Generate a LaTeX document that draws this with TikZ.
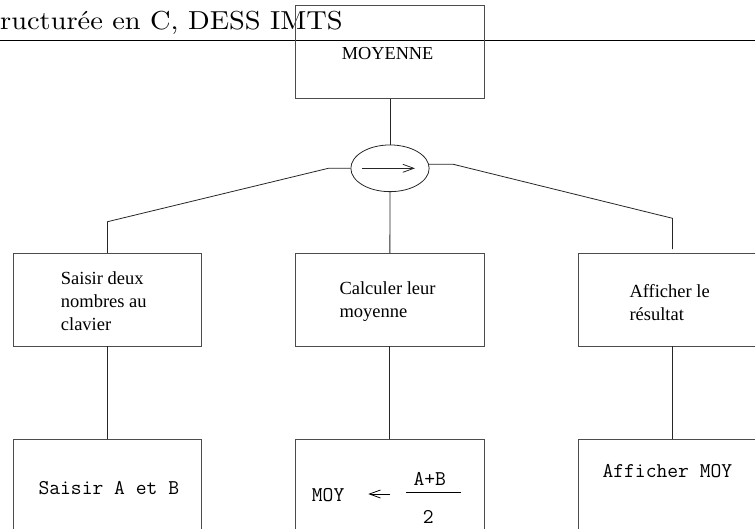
\documentclass[tikz,border=0pt]{standalone}
\usepackage{fontspec}
\usepackage{graphicx}
\newfontfamily\boxfont{Liberation Serif}
\usetikzlibrary{shapes.geometric,arrows.meta}

\begin{document}
\begin{tikzpicture}[x=1pt,y=-1pt,
  frame/.style={draw=black!70, line width=0.8pt, rectangle, inner sep=0pt},
  link/.style={draw=black!85, line width=0.8pt},
  lbl/.style={anchor=base west, inner sep=0pt, font=\boxfont\fontsize{18.5}{23}\selectfont},
  code/.style={anchor=base west, inner sep=0pt, font=\ttfamily\fontsize{21}{24}\selectfont},
  barb/.style={-{Straight Barb[length=11pt,width=8pt]}}]

\useasboundingbox (0,0) rectangle (755,528);
\clip (0,0) rectangle (755,528);

% running header and its rule
\node[anchor=base west, inner sep=0pt] (hdr) at (0,29)
  {\scalebox{2.84}[2.6]{ructurée en C, DESS IMTS}};
\coordinate (ruleL) at (0,40.7);
\coordinate (ruleR) at (755,40.7);
\draw[line width=1.3pt] (ruleL) -- (ruleR);

% boxes
\node[frame, minimum width=188.6pt, minimum height=93.3pt] (top) at (390,51.65) {};
\node[frame, minimum width=188.4pt, minimum height=92.7pt] (L1) at (107.5,299.65) {};
\node[frame, minimum width=188.4pt, minimum height=92.7pt] (M1) at (389.85,299.65) {};
\node[frame, minimum width=188.4pt, minimum height=92.7pt] (R1) at (672.5,299.65) {};
\node[frame, minimum width=188.4pt, minimum height=93.3pt] (L2) at (107.5,485.65) {};
\node[frame, minimum width=188.4pt, minimum height=93.3pt] (M2) at (389.85,485.65) {};
\node[frame, minimum width=188.4pt, minimum height=93.3pt] (R2) at (672.5,485.65) {};

% sequence symbol
\node[ellipse, draw=black!85, line width=0.8pt, minimum width=78.3pt,
      minimum height=46.7pt, inner sep=0pt] (ell) at (390,168.3) {};
\draw[link, barb] ([xshift=-28.3pt]ell.center) -- ([xshift=25pt]ell.center);

% connectors
\draw[link] (top.south) -- (ell.north);
\draw[link] (ell.south) -- (M1.north);
\coordinate (lk) at (328.3,168.3);
\coordinate (lb) at (107.5,221.7);
\draw[link] (ell.west) -- (lk) -- (lb) -- (L1.north);
\coordinate (rk) at (453.3,164.3);
\coordinate (rb) at (672.5,218.3);
\coordinate (re) at (672.5,249);
\draw[link] (ell.6) -- (rk) -- (rb) -- (re);
\draw[link] (L1.south) -- (L2.north);
\draw[link] (M1.south) -- (M2.north);
\draw[link] (R1.south) -- (R2.north);

% labels
\node[lbl, font=\boxfont\fontsize{18.3}{22}\selectfont] (tt) at (341.7,59) {MOYENNE};
\node[lbl] (t1a) at (60.7,284.3) {Saisir deux};
\node[lbl] (t1b) at (60.7,307) {nombres au};
\node[lbl] (t1c) at (60.7,330) {clavier};
\node[lbl] (t2a) at (339.3,294.3) {Calculer leur};
\node[lbl] (t2b) at (339.3,317) {moyenne};
\node[lbl] (t3a) at (629.3,297) {Afficher le};
\node[lbl] (t3b) at (629.3,320) {résultat};

% code
\node[code] (c1) at (38.3,494) {Saisir A et B};
\node[code] (c3) at (602.3,477.3) {Afficher MOY};
\node[code] (moy) at (311.7,501) {MOY};
\coordinate (asgT) at (390,494);
\coordinate (asgH) at (368.3,494);
\draw[line width=0.8pt, barb] (asgT) -- (asgH);
\node[code] (num) at (413.3,485) {A+B};
\node[code] (den) at (422.7,523.3) {2};
\coordinate (barL) at (406,492.7);
\coordinate (barR) at (461,492.7);
\draw[line width=0.8pt] (barL) -- (barR);
\end{tikzpicture}
\end{document}
